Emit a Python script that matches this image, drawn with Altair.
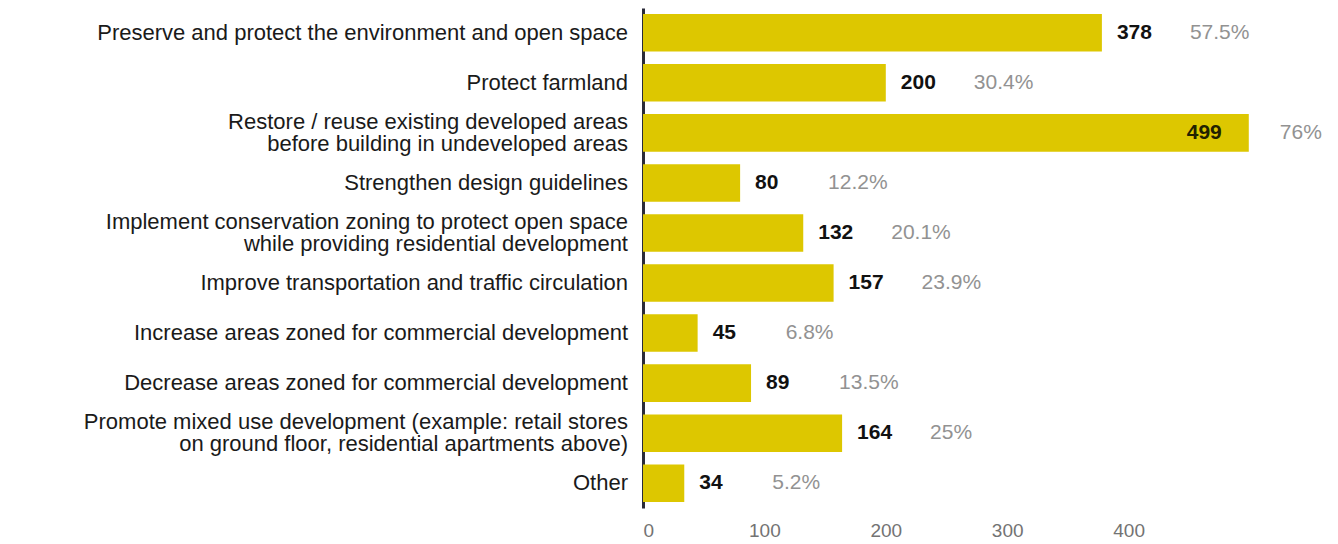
import altair as alt
import pandas as pd

categories = [
    "Preserve and protect the environment and open space",
    "Protect farmland",
    "Restore / reuse existing developed areas|before building in undeveloped areas",
    "Strengthen design guidelines",
    "Implement conservation zoning to protect open space|while providing residential development",
    "Improve transportation and traffic circulation",
    "Increase areas zoned for commercial development",
    "Decrease areas zoned for commercial development",
    "Promote mixed use development (example: retail stores|on ground floor, residential apartments above)",
    "Other",
]
counts = [378, 200, 499, 80, 132, 157, 45, 89, 164, 34]
percents = ["57.5%", "30.4%", "76%", "12.2%", "20.1%", "23.9%", "6.8%", "13.5%", "25%", "5.2%"]
tick_values = [0, 100, 200, 300, 400]

df = pd.DataFrame({"cat": categories, "count": counts, "pct": percents})

FONT = "Liberation Sans"
BAR = "#DDC700"
HALF_LH = 11

y_enc = alt.Y(
    "cat:N",
    sort=categories,
    title=None,
    scale=alt.Scale(paddingInner=0.25, paddingOuter=0.12),
    axis=alt.Axis(
        labels=False,
        ticks=False,
        domainColor="#2b2b38",
        domainWidth=3,
    ),
)
x_enc = alt.X(
    "count:Q",
    title=None,
    scale=alt.Scale(domain=[0, 500], nice=False),
    axis=alt.Axis(
        values=tick_values,
        grid=False,
        domain=False,
        ticks=False,
        labelFont=FONT,
        labelFontSize=19,
        labelColor="#737373",
        labelPadding=13,
    ),
)
y_plain = alt.Y("cat:N", sort=categories)

base = alt.Chart(df)
bars = base.mark_bar(color=BAR).encode(x=x_enc, y=y_enc)

label_style = dict(align="right", baseline="middle", font=FONT, fontSize=22, color="#1a1a1a")

lab_single = base.transform_filter("indexof(datum.cat, '|') < 0").mark_text(
    **label_style
).encode(x=alt.value(-15), y=y_plain, text="cat:N")

lab_first = base.transform_filter("indexof(datum.cat, '|') >= 0").transform_calculate(
    line="split(datum.cat, '|')[0]"
).mark_text(dy=-HALF_LH, **label_style).encode(x=alt.value(-15), y=y_plain, text="line:N")

lab_second = base.transform_filter("indexof(datum.cat, '|') >= 0").transform_calculate(
    line="split(datum.cat, '|')[1]"
).mark_text(dy=HALF_LH, **label_style).encode(x=alt.value(-15), y=y_plain, text="line:N")

count_out = base.transform_filter("datum.count < 450").mark_text(
    align="left", baseline="middle", dx=15, font=FONT, fontSize=21, fontWeight="bold", color="#111111"
).encode(x="count:Q", y=y_plain, text="count:Q")

count_in = base.transform_filter("datum.count >= 450").mark_text(
    align="right", baseline="middle", dx=-27, font=FONT, fontSize=21, fontWeight="bold", color="#222200"
).encode(x="count:Q", y=y_plain, text="count:Q")

pct_out = base.transform_filter("datum.count < 450").mark_text(
    align="left", baseline="middle", dx=88, font=FONT, fontSize=21, color="#929292"
).encode(x="count:Q", y=y_plain, text="pct:N")

pct_in = base.transform_filter("datum.count >= 450").mark_text(
    align="left", baseline="middle", dx=31, font=FONT, fontSize=21, color="#929292"
).encode(x="count:Q", y=y_plain, text="pct:N")

chart = (
    alt.layer(bars, lab_single, lab_first, lab_second, count_out, count_in, pct_out, pct_in)
    .properties(
        width=607,
        height=500,
        autosize=alt.AutoSizeParams(type="none"),
        padding={"left": 635, "top": 0, "right": 80, "bottom": 36},
    )
    .configure(background="white")
    .configure_view(strokeWidth=0, stroke="transparent")
)

chart.save("out.html", embed_options={"renderer": "svg", "actions": False})
